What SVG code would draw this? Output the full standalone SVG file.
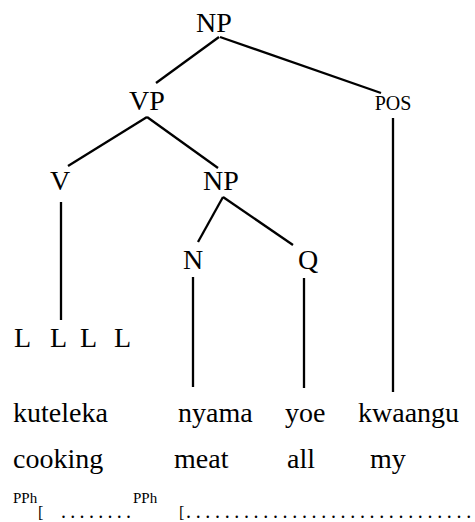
<svg xmlns="http://www.w3.org/2000/svg" width="475" height="522" viewBox="0 0 475 522">
<style>
text{font-family:"Liberation Serif","Times New Roman",serif;fill:#000}
.n{font-size:28px;text-anchor:middle}
.s{font-size:20px;text-anchor:middle}
.w{font-size:28px}
.sup{font-size:15px}
.dots{font-size:20px}
.br{font-size:16px}
line{stroke:#000;stroke-width:2.3;stroke-linecap:butt}
</style>
<rect width="475" height="522" fill="#fff"/>
<g id="connectors">
<line x1="219" y1="37" x2="156" y2="83"/>
<line x1="220" y1="37" x2="381" y2="93"/>
<line x1="147" y1="117" x2="68" y2="166"/>
<line x1="147" y1="117" x2="218" y2="168"/>
<line x1="223" y1="197" x2="198" y2="242"/>
<line x1="223" y1="197" x2="293" y2="245"/>
<line x1="61" y1="202" x2="61" y2="320"/>
<line x1="193" y1="277" x2="193" y2="387"/>
<line x1="304" y1="278" x2="304" y2="388"/>
<line x1="393" y1="118" x2="393" y2="392"/>
</g>
<g id="np-root"><text class="n" x="214" y="32">NP</text></g>
<g id="vp"><text class="n" x="147" y="110">VP</text></g>
<g id="pos"><text class="s" x="393" y="110">POS</text></g>
<g id="v"><text class="n" x="60" y="190">V</text></g>
<g id="np2"><text class="n" x="221" y="190">NP</text></g>
<g id="n"><text class="n" x="193" y="269">N</text></g>
<g id="q"><text class="n" x="308" y="269">Q</text></g>
<g id="tones">
<text class="w" x="14" y="347">L</text>
<text class="w" x="50" y="347">L</text>
<text class="w" x="80" y="347">L</text>
<text class="w" x="114" y="347">L</text>
</g>
<g id="words">
<text class="w" x="13" y="422">kuteleka</text>
<text class="w" x="178" y="422">nyama</text>
<text class="w" x="285" y="422">yoe</text>
<text class="w" x="358" y="422">kwaangu</text>
</g>
<g id="gloss">
<text class="w" x="13" y="468">cooking</text>
<text class="w" x="174" y="468">meat</text>
<text class="w" x="287" y="468">all</text>
<text class="w" x="370" y="468">my</text>
</g>
<g id="phrasing">
<text class="sup" x="13" y="503">PPh</text>
<text class="br" x="38" y="518">[</text>
<text class="dots" x="61" y="518" letter-spacing="4.3">........</text>
<text class="sup" x="133" y="503">PPh</text>
<text class="br" x="179" y="518">[</text>
<text class="dots" x="186" y="518" letter-spacing="4.66">..............................</text>
</g>
</svg>
